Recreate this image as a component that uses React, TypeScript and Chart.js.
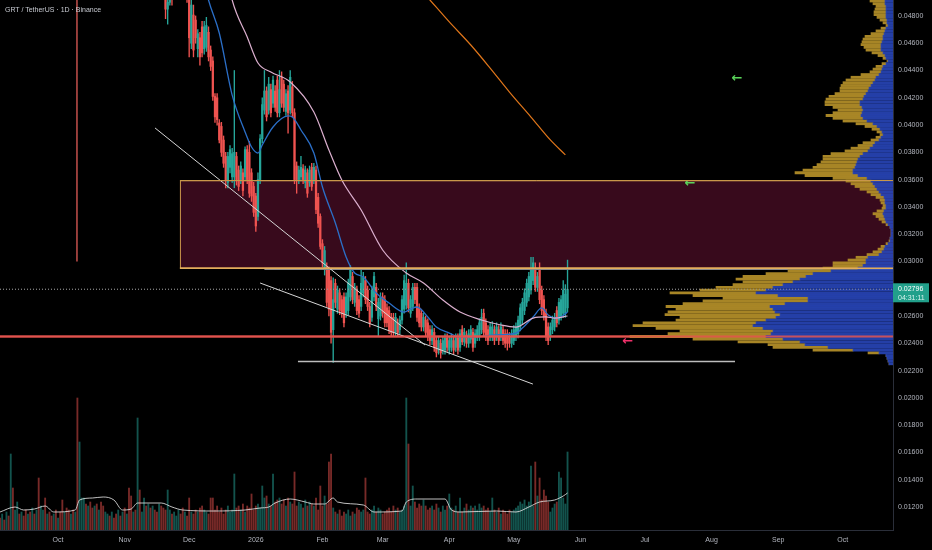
import React, { useEffect, useRef } from "react";
import { Chart, registerables } from "chart.js";

Chart.register(...registerables);

const W = 932;
const H = 550;
const FONT = "Liberation Sans";

// x axis in days since 1 Oct 2025
const X_MIN = -27;
const X_MAX = 388.4;
const Y_MIN = 0.01031;
const Y_MAX = 0.04917;

const monthTickDays = [0, 31, 61, 92, 123, 151, 182, 212, 243, 273, 304, 335, 365];
const monthTickLabels = ["Oct", "Nov", "Dec", "2026", "Feb", "Mar", "Apr", "May", "Jun", "Jul", "Aug", "Sep", "Oct"];

// daily candles (price x 1e-5), first candle day = 48
const FIRST_CANDLE_DAY = 48;
const candleOpen = [
  5200, 5100, 4990, 4850, 4900, 5050, 4980, 5150, 5250, 5350,
  5280, 5150, 5200, 4950, 4600, 4807, 4770, 4560, 4640, 4720,
  4560, 4570, 4680, 4550, 4470, 4210, 4200, 4015, 3990, 3890,
  3770, 3580, 3690, 3620, 3620, 3770, 3670, 3600, 3650, 3620,
  3820, 3800, 3650, 3550, 3480, 3330, 3600, 3900, 4110, 4250,
  4110, 4260, 4160, 4250, 4330, 4090, 4350, 4300, 4100, 4250,
  4110, 4280, 4090, 3700, 3600, 3620, 3680, 3580, 3650, 3580,
  3690, 3600, 3670, 3470, 3330, 3130, 2940, 2960, 2940, 2860,
  2500, 2840, 2650, 2770, 2720, 2740, 2620, 2640, 2740, 2890,
  2700, 2790, 2720, 2670, 2770, 2860, 2790, 2670, 2590, 2740,
  2810, 2580, 2600, 2740, 2720, 2660, 2640, 2590, 2590, 2480,
  2550, 2500, 2570, 2650, 2680, 2840, 2620, 2670, 2810, 2810,
  2660, 2620, 2520, 2570, 2550, 2500, 2420, 2480, 2420, 2350,
  2400, 2350, 2350, 2440, 2350, 2370, 2420, 2370, 2440, 2370,
  2500, 2410, 2460, 2400, 2430, 2480, 2400, 2450, 2450, 2500,
  2620, 2550, 2500, 2450, 2450, 2500, 2450, 2500, 2450, 2500,
  2470, 2470, 2450, 2400, 2420, 2450, 2470, 2520, 2570, 2640,
  2700, 2740, 2790, 2860, 2940, 2810, 2940, 2790, 2720, 2620,
  2520, 2450, 2500, 2520, 2640, 2570, 2600, 2620, 2620, 2660,
];
const candleHigh = [
  5300, 5150, 5050, 4990, 5100, 5120, 5200, 5300, 5400, 5420,
  5350, 5250, 5260, 5000, 4950, 4880, 4800, 4700, 4680, 4760,
  4760, 4790, 4720, 4580, 4500, 4230, 4230, 4040, 4020, 3920,
  3800, 3800, 3850, 3830, 4400, 3800, 3700, 3730, 3680, 3840,
  3850, 3880, 3680, 3580, 3500, 3650, 3930, 4200, 4400, 4280,
  4350, 4300, 4360, 4290, 4360, 4400, 4390, 4330, 4260, 4290,
  4400, 4320, 4120, 3730, 3700, 3770, 3710, 3700, 3680, 3700,
  3720, 3720, 3700, 3500, 3350, 3160, 3110, 2990, 2960, 2890,
  2880, 2870, 2820, 2800, 2750, 2770, 2770, 2870, 2970, 2920,
  2840, 2820, 2750, 2940, 2920, 2890, 2820, 2700, 2820, 2920,
  2840, 2730, 2770, 2770, 2750, 2690, 2670, 2620, 2620, 2620,
  2580, 2600, 2750, 2900, 2990, 2870, 2750, 2840, 2840, 2840,
  2690, 2650, 2620, 2600, 2580, 2530, 2530, 2510, 2450, 2450,
  2430, 2450, 2470, 2470, 2450, 2470, 2450, 2470, 2470, 2500,
  2530, 2510, 2490, 2500, 2530, 2510, 2500, 2530, 2580, 2650,
  2650, 2580, 2530, 2550, 2560, 2530, 2550, 2530, 2550, 2530,
  2500, 2500, 2480, 2500, 2530, 2550, 2600, 2690, 2730, 2800,
  2870, 2920, 3030, 3030, 2990, 2920, 2990, 2820, 2750, 2650,
  2550, 2550, 2600, 2620, 2670, 2730, 2750, 2860, 2830, 3010,
];
const candleLow = [
  5000, 4950, 4780, 4740, 4880, 4880, 4960, 5080, 5150, 5200,
  5100, 5000, 4900, 4500, 4560, 4500, 4600, 4500, 4440, 4500,
  4520, 4540, 4470, 4400, 4180, 4020, 4000, 3870, 3770, 3690,
  3540, 3540, 3650, 3580, 3540, 3560, 3520, 3570, 3480, 3590,
  3570, 3470, 3440, 3330, 3220, 3300, 3570, 3870, 4080, 4030,
  4080, 4060, 4130, 4100, 4060, 4060, 4130, 4100, 4070, 3940,
  4080, 4060, 3570, 3500, 3570, 3590, 3570, 3540, 3470, 3550,
  3520, 3570, 3350, 3250, 3090, 2960, 2900, 2670, 2600, 2400,
  2260, 2660, 2620, 2610, 2590, 2520, 2590, 2610, 2710, 2690,
  2670, 2610, 2590, 2640, 2740, 2690, 2640, 2520, 2560, 2710,
  2640, 2450, 2570, 2590, 2520, 2520, 2470, 2450, 2450, 2450,
  2450, 2470, 2540, 2620, 2650, 2630, 2590, 2640, 2690, 2560,
  2520, 2490, 2490, 2450, 2420, 2390, 2390, 2340, 2300, 2320,
  2290, 2320, 2320, 2340, 2320, 2340, 2320, 2340, 2320, 2340,
  2390, 2380, 2370, 2370, 2400, 2340, 2370, 2420, 2420, 2470,
  2450, 2420, 2390, 2420, 2420, 2390, 2420, 2390, 2420, 2390,
  2370, 2350, 2370, 2370, 2390, 2420, 2440, 2490, 2540, 2610,
  2670, 2710, 2760, 2830, 2780, 2780, 2690, 2610, 2570, 2420,
  2390, 2420, 2470, 2490, 2520, 2540, 2570, 2590, 2590, 2630,
];
const candleClose = [
  5100, 4990, 4850, 4900, 5050, 4980, 5150, 5250, 5350, 5280,
  5150, 5200, 4950, 4640, 4880, 4550, 4640, 4670, 4500, 4530,
  4720, 4730, 4500, 4430, 4210, 4060, 4040, 3891, 3800, 3720,
  3600, 3770, 3820, 3790, 3800, 3600, 3550, 3700, 3520, 3820,
  3600, 3500, 3480, 3360, 3260, 3600, 3900, 4150, 4250, 4060,
  4300, 4090, 4330, 4130, 4090, 4260, 4160, 4130, 4230, 4090,
  4350, 4090, 3600, 3600, 3670, 3690, 3600, 3670, 3500, 3670,
  3550, 3690, 3380, 3280, 3110, 2990, 3080, 2700, 2650, 2480,
  2720, 2700, 2790, 2640, 2620, 2550, 2740, 2840, 2940, 2720,
  2810, 2640, 2620, 2840, 2890, 2720, 2670, 2550, 2790, 2890,
  2670, 2700, 2740, 2620, 2550, 2550, 2500, 2480, 2480, 2590,
  2480, 2570, 2720, 2860, 2840, 2660, 2720, 2810, 2720, 2590,
  2550, 2520, 2590, 2480, 2450, 2420, 2500, 2370, 2330, 2420,
  2330, 2420, 2440, 2370, 2420, 2440, 2350, 2440, 2350, 2470,
  2410, 2480, 2400, 2470, 2500, 2370, 2470, 2500, 2550, 2590,
  2480, 2450, 2420, 2520, 2520, 2420, 2520, 2420, 2520, 2420,
  2400, 2400, 2400, 2470, 2500, 2520, 2570, 2660, 2700, 2770,
  2840, 2890, 2940, 2990, 2810, 2890, 2720, 2640, 2600, 2450,
  2420, 2520, 2570, 2590, 2550, 2700, 2720, 2790, 2760, 2796,
];

// daily volume (millions), first day = -27
const VOL_FIRST_DAY = -27;
const volume = [
  6, 8, 5, 9, 7, 38, 21, 10, 14, 8,
  9, 7, 10, 8, 9, 11, 8, 10, 26, 12,
  10, 16, 8, 9, 7, 8, 10, 6, 9, 15,
  9, 11, 10, 8, 10, 9, 66, 44, 16, 16,
  13, 12, 14, 11, 12, 13, 10, 14, 12, 9,
  8, 7, 9, 6, 8, 10, 7, 9, 11, 8,
  21, 17, 9, 10, 56, 20, 9, 16, 12, 13,
  11, 12, 10, 9, 13, 12, 11, 10, 20, 10,
  8, 9, 7, 10, 8, 11, 9, 7, 16, 9,
  8, 10, 9, 11, 12, 10, 9, 8, 16, 16,
  10, 12, 9, 11, 8, 10, 12, 9, 10, 28,
  11, 12, 10, 13, 9, 12, 11, 18, 10, 12,
  13, 11, 22, 16, 17, 13, 12, 28, 14, 15,
  16, 13, 15, 12, 16, 14, 13, 29, 12, 14,
  13, 11, 15, 12, 14, 13, 12, 16, 10, 22,
  12, 17, 13, 34, 38, 11, 9, 8, 10, 7,
  9, 8, 10, 7, 9, 8, 11, 10, 9, 10,
  26, 9, 8, 10, 12, 9, 11, 10, 8, 9,
  10, 11, 9, 12, 10, 11, 9, 10, 12, 66,
  43, 12, 22, 14, 11, 13, 12, 15, 12, 10,
  11, 12, 10, 13, 11, 9, 12, 10, 12, 18,
  11, 10, 12, 9, 16, 9, 11, 13, 10, 12,
  11, 12, 10, 13, 11, 12, 10, 11, 9, 16,
  10, 9, 11, 8, 10, 9, 8, 10, 9, 10,
  11, 12, 14, 13, 15, 12, 14, 32, 12, 34,
  17, 26, 15, 20, 17, 14, 9, 11, 13, 14,
  29, 26, 16, 13, 39,
];
// direction of the days before the first drawn candle (g = up, r = down)
const volDirBeforeCandles =
  "rgrgrgrggr" + "grrgrgrgrg" + "grgrrgrgrr" + "grrgrgrggg" +
  "rgrrgrgrrg" + "grgrrgrgrg" + "rrgrgrggrg" + "rgrrg";

const volMaDays = [-27, -20, -16, -11, -6, -2, 8, 10, 16, 21, 26, 30, 34, 37, 48, 53, 58, 73, 87, 94, 98, 101, 108, 115, 119, 124, 128, 130, 142, 147, 160, 162, 167, 180, 183, 187, 204, 213, 219, 224, 231, 235, 237];
const volMaValues = [9, 11.5, 10, 10.5, 12, 9, 10, 15, 16, 16.5, 15, 10, 10.5, 13.5, 13.5, 11.5, 10, 9.5, 10, 11, 11.5, 13.5, 15.5, 14, 13, 13, 16, 14, 12.5, 9, 9.5, 14, 15.5, 15.5, 10, 9, 9.5, 9, 11.5, 14, 15, 17, 18.5];

// moving averages (price x 1e-5)
const maFastDays = [67, 70, 75, 81, 87, 90, 93, 95, 100, 107, 109, 113, 119, 123, 129, 134, 138, 142, 148, 154, 161, 164, 167, 172, 176, 182, 187, 194, 203, 213, 216, 221, 225, 228, 231, 234, 237];
const maFastValues = [5120, 4917, 4675, 4220, 3949, 3839, 3795, 3854, 3986, 4067, 4059, 3964, 3795, 3546, 3282, 3033, 2915, 2886, 2769, 2695, 2629, 2651, 2666, 2593, 2519, 2475, 2446, 2446, 2461, 2475, 2512, 2593, 2659, 2607, 2585, 2593, 2629];
const maSlowDays = [78, 81, 88, 93, 99, 108, 119, 126, 132, 141, 151, 162, 170, 179, 187, 197, 206, 213, 221, 227, 231, 237];
const maSlowValues = [5150, 4917, 4646, 4455, 4389, 4316, 4096, 3817, 3597, 3377, 3084, 2915, 2842, 2717, 2629, 2571, 2534, 2519, 2585, 2593, 2585, 2600];
const maLongDays = [165, 173, 182, 192, 201, 210, 220, 229, 236];
const maLongValues = [5060, 4917, 4756, 4587, 4418, 4242, 4059, 3891, 3781];

// visible-range volume profile: rows from 0.0225 every 0.0002
const profileFirstPrice = 0.0225;
const profileStep = 0.0002;
const profileUp = [
  4, 5, 6, 7, 14, 40, 65, 88, 93, 110,
  127, 122, 120, 130, 140, 137, 127, 117, 113, 118,
  120, 123, 108, 85, 85, 115, 137, 127, 120, 110,
  100, 93, 87, 80, 62, 35, 30, 27, 27, 25,
  14, 11, 9, 8, 5, 3, 3, 2, 2, 2,
  3, 5, 7, 8, 9, 10, 9, 7, 7, 8,
  8, 9, 12, 14, 16, 18, 20, 22, 26, 35,
  40, 40, 38, 37, 36, 35, 33, 30, 25, 23,
  20, 18, 14, 12, 10, 11, 13, 16, 20, 26,
  30, 32, 31, 30, 31, 33, 33, 30, 29, 27,
  25, 24, 22, 20, 18, 17, 14, 12, 11, 10,
  7, 5, 7, 8, 10, 12, 12, 12, 11, 10,
  10, 9, 8, 7, 5, 6, 6, 7, 7, 7,
  7, 7, 8, 8,
];
const profileDown = [
  0, 0, 0, 0, 11, 40, 55, 37, 62, 90,
  136, 103, 93, 107, 120, 113, 90, 96, 115, 107,
  97, 104, 102, 105, 85, 85, 86, 66, 57, 50,
  50, 64, 63, 47, 43, 35, 30, 33, 18, 12,
  12, 9, 6, 4, 2, 1, 0, 0, 0, 0,
  0, 2, 4, 6, 8, 10, 7, 4, 3, 4,
  5, 8, 10, 12, 17, 20, 22, 25, 34, 53,
  58, 50, 42, 39, 36, 35, 37, 32, 23, 19,
  15, 12, 8, 5, 3, 5, 8, 12, 17, 24,
  30, 35, 29, 25, 29, 35, 35, 37, 35, 31,
  28, 29, 30, 30, 29, 25, 18, 11, 9, 7,
  4, 1, 3, 7, 11, 15, 17, 20, 20, 20,
  18, 13, 9, 5, 2, 4, 7, 9, 12, 12,
  11, 10, 12, 15,
];
const PROFILE_SCALE_MAX = 893;

// drawings
const zoneTop = 0.03595;
const zoneBottom = 0.0295;
const zoneStartDay = 56.7;
const supportPrice = 0.0245;
const baseLinePrice = 0.02266;
const baseLineDays = [111.6, 314.9];
const shelfPrice = 0.02942;
const shelfStartDay = 96;
const trendUpperDays = [45.1, 170.7];
const trendUpperPrices = [0.03979, 0.02387];
const trendLowerDays = [94, 220.9];
const trendLowerPrices = [0.02842, 0.02101];
const markerDay = 8.8;
const markerPrices = [0.03, 0.0495];
const lastPrice = 0.02796;
const countdown = "04:31:11";
const arrowDays = [315.8, 294, 265];
const arrowPrices = [0.04338, 0.03568, 0.02409];
const arrowColors = ["#5ad45a", "#5ad45a", "#f0306a"];

const UP = "#26a69a";
const DOWN = "#ef5350";
const UP_VOL = "rgba(38,166,154,0.5)";
const DOWN_VOL = "rgba(239,83,80,0.5)";
const AXIS_TEXT = "#b2b5be";

const px = (v: number) => v / 100000;

function lineData(days: number[], vals: number[], scale: (v: number) => number) {
  return days.map((d, i) => ({ x: d, y: scale(vals[i]) }));
}

export default function App() {
  const mainRef = useRef<HTMLCanvasElement | null>(null);
  const profRef = useRef<HTMLCanvasElement | null>(null);

  useEffect(() => {
    if (!mainRef.current || !profRef.current) return;

    const candleDays = candleOpen.map((_, i) => FIRST_CANDLE_DAY + i);
    const isUp = (i: number) => candleClose[i] >= candleOpen[i];
    const candleColors = candleDays.map((_, i) => (isUp(i) ? UP : DOWN));
    const volColors = volume.map((_, i) => {
      const d = VOL_FIRST_DAY + i;
      const up = d >= FIRST_CANDLE_DAY ? isUp(d - FIRST_CANDLE_DAY) : volDirBeforeCandles[i] === "g";
      return up ? UP_VOL : DOWN_VOL;
    });
    const ident = (v: number) => v;

    const line = (data: any[], color: string, width: number, extra: any = {}) => ({
      type: "line",
      data,
      borderColor: color,
      borderWidth: width,
      pointRadius: 0,
      fill: false,
      yAxisID: "y",
      order: 0,
      ...extra,
    });

    const bgPlugin = {
      id: "bg",
      beforeDraw(chart: any) {
        const { ctx } = chart;
        ctx.save();
        ctx.fillStyle = "#000";
        ctx.fillRect(0, 0, chart.width, chart.height);
        ctx.restore();
      },
    };

    const zonePlugin = {
      id: "zone",
      beforeDatasetsDraw(chart: any) {
        const { ctx, chartArea, scales } = chart;
        const x = scales.x;
        const y = scales.y;
        const left = x.getPixelForValue(zoneStartDay);
        const right = chartArea.right;
        const top = y.getPixelForValue(zoneTop);
        const bottom = y.getPixelForValue(zoneBottom);
        ctx.save();
        ctx.fillStyle = "#380a1c";
        ctx.fillRect(left, top, right - left, bottom - top);
        ctx.strokeStyle = "#c9974a";
        ctx.lineWidth = 1;
        ctx.beginPath();
        ctx.moveTo(right, top + 0.5);
        ctx.lineTo(left + 0.5, top + 0.5);
        ctx.lineTo(left + 0.5, bottom);
        ctx.stroke();
        ctx.restore();
      },
    };

    const labelPlugin = {
      id: "labels",
      afterDatasetsDraw(chart: any) {
        const { ctx, scales } = chart;
        ctx.save();
        ctx.font = `bold 13px "DejaVu Sans"`;
        ctx.textAlign = "center";
        ctx.textBaseline = "middle";
        arrowDays.forEach((d, i) => {
          ctx.fillStyle = arrowColors[i];
          ctx.fillText("←", scales.x.getPixelForValue(d), scales.y.getPixelForValue(arrowPrices[i]));
        });
        ctx.restore();
      },
      afterDraw(chart: any) {
        const { ctx, chartArea, scales } = chart;
        const yp = scales.y.getPixelForValue(lastPrice);
        ctx.save();
        ctx.fillStyle = "#22a08b";
        ctx.fillRect(chartArea.right, yp - 6, 36, 19);
        ctx.fillStyle = "#ffffff";
        ctx.font = `7px "${FONT}"`;
        ctx.textAlign = "left";
        ctx.textBaseline = "middle";
        ctx.fillText(lastPrice.toFixed(5), chartArea.right + 5, yp);
        ctx.fillStyle = "#d8f2ee";
        ctx.fillText(countdown, chartArea.right + 5, yp + 8.5);
        ctx.restore();
      },
    };

    const main = new Chart(mainRef.current, {
      type: "bar",
      data: {
        datasets: [
          {
            type: "bar",
            label: "volume",
            data: volume.map((v, i) => ({ x: VOL_FIRST_DAY + i, y: v })),
            backgroundColor: volColors,
            barThickness: 1.2,
            grouped: false,
            yAxisID: "yv",
            order: 20,
          },
          {
            type: "line",
            label: "volume MA",
            data: lineData(volMaDays, volMaValues, ident),
            borderColor: "rgba(225,225,225,0.85)",
            borderWidth: 1,
            pointRadius: 0,
            cubicInterpolationMode: "monotone",
            yAxisID: "yv",
            order: 19,
          },
          {
            type: "bar",
            label: "wicks",
            data: candleDays.map((d, i) => ({ x: d, y: [px(candleLow[i]), px(candleHigh[i])] })),
            backgroundColor: candleColors,
            barThickness: 0.7,
            grouped: false,
            yAxisID: "y",
            order: 4,
          },
          {
            type: "bar",
            label: "bodies",
            data: candleDays.map((d, i) => ({ x: d, y: [px(candleOpen[i]), px(candleClose[i])] })),
            backgroundColor: candleColors,
            barThickness: 1.6,
            minBarLength: 1,
            grouped: false,
            yAxisID: "y",
            order: 3,
          },
          line(lineData(maLongDays, maLongValues, px), "#e0761a", 1.2, { cubicInterpolationMode: "monotone", order: 2 }),
          line(lineData(maSlowDays, maSlowValues, px), "#dcb0cf", 1.2, { cubicInterpolationMode: "monotone", order: 2 }),
          line(lineData(maFastDays, maFastValues, px), "#2b6fc8", 1.3, { cubicInterpolationMode: "monotone", order: 2 }),
          line(lineData(trendUpperDays, trendUpperPrices, ident), "#d6d6d6", 1),
          line(lineData(trendLowerDays, trendLowerPrices, ident), "#d6d6d6", 1),
          line(lineData(baseLineDays, [baseLinePrice, baseLinePrice], ident), "#bdbdbd", 1.5),
          line(lineData([shelfStartDay, X_MAX], [shelfPrice, shelfPrice], ident), "#8a8a8a", 1.2),
          line(lineData([X_MIN, X_MAX], [supportPrice, supportPrice], ident), "#e0534e", 2),
          line(lineData([markerDay, markerDay], markerPrices, ident), "#c4504c", 1.5),
          line(lineData([X_MIN, X_MAX], [lastPrice, lastPrice], ident), "rgba(150,150,150,0.75)", 1, { borderDash: [1, 2] }),
          line(lineData([zoneStartDay, X_MAX], [zoneBottom, zoneBottom], ident), "#e3ad5c", 1.6),
        ],
      },
      options: {
        responsive: false,
        animation: false,
        events: [],
        layout: { padding: 0 },
        plugins: { legend: { display: false }, tooltip: { enabled: false } },
        scales: {
          x: {
            type: "linear",
            min: X_MIN,
            max: X_MAX,
            offset: false,
            grid: { display: false, drawTicks: false },
            border: { display: true, color: "#2a2e39" },
            afterBuildTicks: (scale: any) => {
              scale.ticks = monthTickDays.map((v) => ({ value: v }));
            },
            afterFit: (scale: any) => {
              scale.height = 20;
              scale.paddingLeft = 0;
              scale.paddingRight = 0;
            },
            ticks: {
              autoSkip: false,
              maxRotation: 0,
              padding: 6,
              color: AXIS_TEXT,
              font: { family: FONT, size: 7 },
              callback: (v: any) => {
                const i = monthTickDays.indexOf(Number(v));
                return i >= 0 ? monthTickLabels[i] : "";
              },
            },
          },
          y: {
            type: "linear",
            position: "right",
            min: Y_MIN,
            max: Y_MAX,
            grid: { display: false, drawTicks: false },
            border: { display: true, color: "#2a2e39" },
            afterFit: (scale: any) => {
              scale.width = 39;
              scale.paddingTop = 0;
              scale.paddingBottom = 0;
            },
            ticks: {
              stepSize: 0.002,
              includeBounds: false,
              padding: 5,
              color: AXIS_TEXT,
              font: { family: FONT, size: 7 },
              callback: (v: any) => Number(v).toFixed(5),
            },
          },
          yv: {
            type: "linear",
            display: false,
            min: 0,
            max: 265,
          },
        },
      },
      plugins: [bgPlugin, zonePlugin, labelPlugin],
    } as any);

    const topLinesPlugin = {
      id: "topLines",
      afterDatasetsDraw(chart: any) {
        const { ctx, chartArea, scales } = chart;
        const y = scales.y;
        const mx = main.scales.x;
        ctx.save();
        const zl = mx.getPixelForValue(zoneStartDay);
        ctx.strokeStyle = "#c9974a";
        ctx.lineWidth = 1;
        ctx.beginPath();
        const yt = Math.round(y.getPixelForValue(zoneTop)) + 0.5;
        ctx.moveTo(zl, yt);
        ctx.lineTo(chartArea.right, yt);
        ctx.stroke();
        ctx.strokeStyle = "#e3ad5c";
        ctx.lineWidth = 1.6;
        ctx.beginPath();
        const yb = y.getPixelForValue(zoneBottom);
        ctx.moveTo(zl, yb);
        ctx.lineTo(chartArea.right, yb);
        ctx.stroke();
        ctx.strokeStyle = "rgba(224,83,78,0.85)";
        ctx.lineWidth = 2;
        ctx.beginPath();
        const ys = y.getPixelForValue(supportPrice);
        ctx.moveTo(chartArea.left, ys);
        ctx.lineTo(chartArea.right, ys);
        ctx.stroke();
        ctx.strokeStyle = "rgba(150,150,150,0.75)";
        ctx.lineWidth = 1;
        ctx.setLineDash([1, 2]);
        ctx.beginPath();
        const yl = y.getPixelForValue(lastPrice);
        ctx.moveTo(chartArea.left, yl);
        ctx.lineTo(chartArea.right, yl);
        ctx.stroke();
        ctx.restore();
      },
    };

    const rowPrice = (i: number) => profileFirstPrice + i * profileStep;
    const profile = new Chart(profRef.current, {
      type: "bar",
      data: {
        datasets: [
          {
            label: "buy volume",
            data: profileUp.map((v, i) => ({ y: rowPrice(i), x: [0, v] })),
            backgroundColor: "rgba(40,70,185,0.9)",
            barThickness: 2.2,
            grouped: false,
          },
          {
            label: "sell volume",
            data: profileDown.map((v, i) => ({ y: rowPrice(i), x: [profileUp[i], profileUp[i] + v] })),
            backgroundColor: "rgba(176,140,40,0.95)",
            barThickness: 2.2,
            grouped: false,
          },
        ],
      },
      options: {
        indexAxis: "y",
        responsive: false,
        animation: false,
        events: [],
        layout: { padding: { left: 0, top: 0, right: 39, bottom: 20 } },
        plugins: { legend: { display: false }, tooltip: { enabled: false } },
        scales: {
          x: { type: "linear", min: 0, max: PROFILE_SCALE_MAX, reverse: true, display: false, offset: false },
          y: { type: "linear", min: Y_MIN, max: Y_MAX, display: false, offset: false },
        },
      },
      plugins: [topLinesPlugin],
    } as any);

    return () => {
      profile.destroy();
      main.destroy();
    };
  }, []);

  return (
    <div style={{ position: "fixed", left: 0, top: 0, width: W, height: H, background: "#000", overflow: "hidden" }}>
      <canvas ref={mainRef} width={W} height={H} style={{ position: "absolute", left: 0, top: 0 }} />
      <canvas ref={profRef} width={W} height={H} style={{ position: "absolute", left: 0, top: 0 }} />
      <div
        style={{
          position: "absolute",
          left: 5,
          top: 6,
          fontFamily: FONT,
          fontSize: 7,
          color: "#c7cad1",
          whiteSpace: "nowrap",
        }}
      >
        GRT / TetherUS · 1D · Binance
      </div>
    </div>
  );
}
